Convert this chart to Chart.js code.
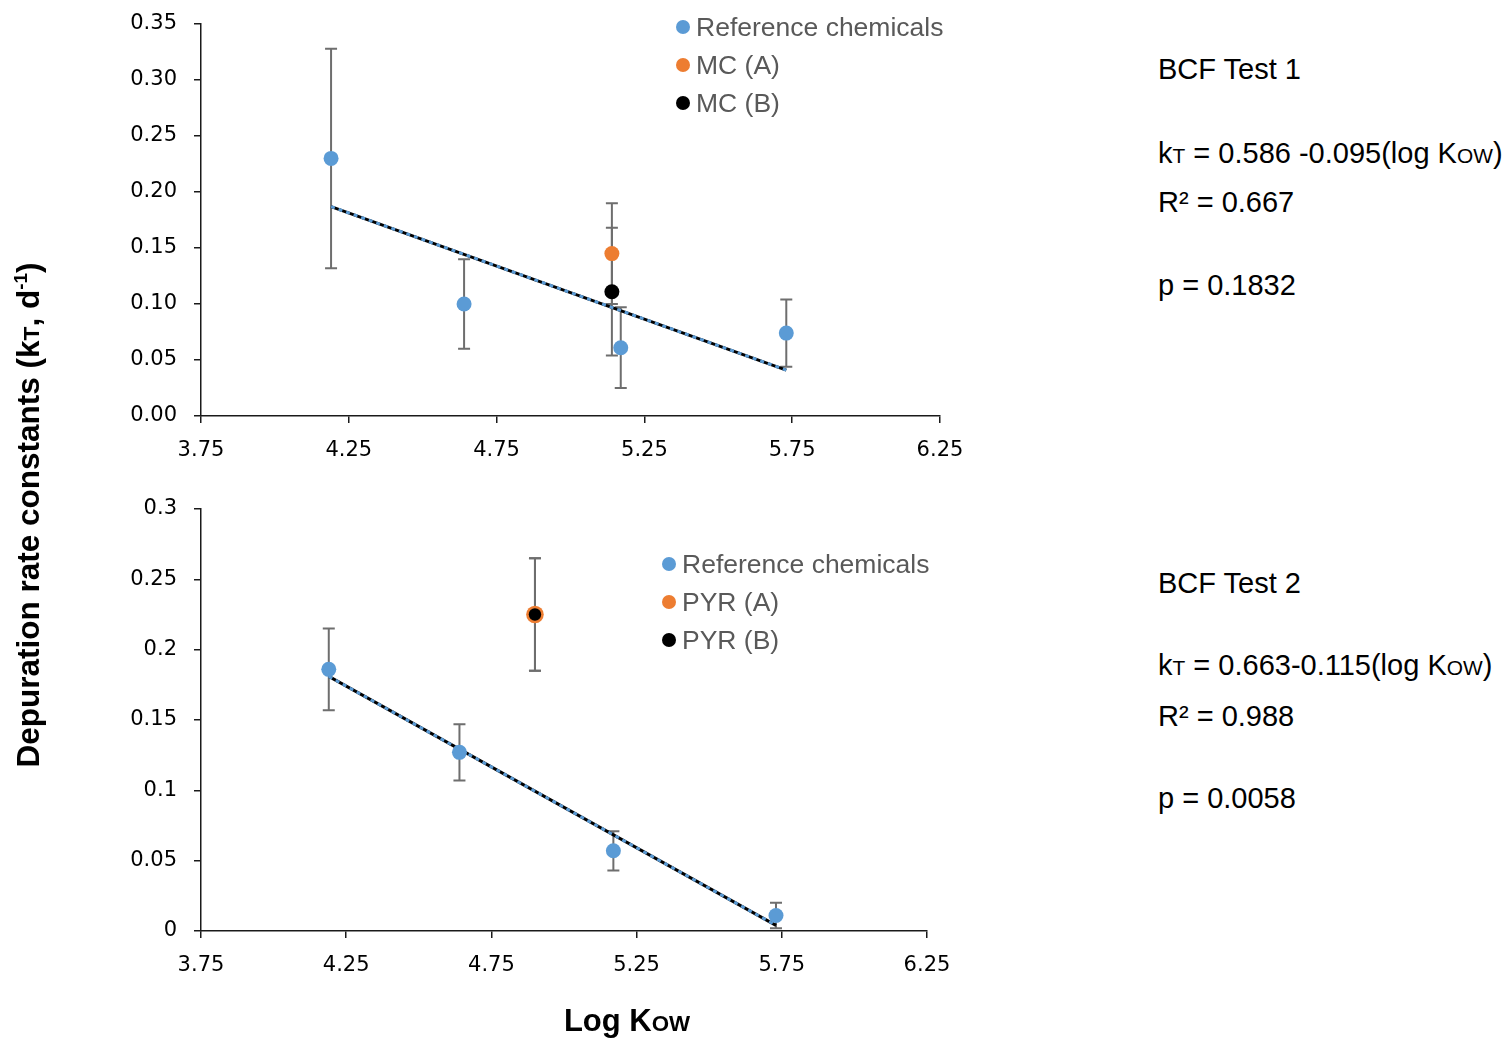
<!DOCTYPE html>
<html>
<head>
<meta charset="utf-8">
<script src="https://cdn.jsdelivr.net/npm/chart.js@4.4.1/dist/chart.umd.min.js"></script>
<style>
  body { margin: 0; background: #fff; }
  #wrap { position: relative; width: 1504px; height: 1039px; font-family: "Liberation Sans", Arial, sans-serif; }
  canvas { position: absolute; left: 0; }
  .legend { position: absolute; color: #595959; font-size: 26.5px; }
  .legend div { height: 38px; line-height: 38px; white-space: nowrap; }
  .legend span.dot { display: inline-block; width: 14px; height: 14px; border-radius: 50%; margin-right: 6px; vertical-align: middle; position: relative; top: -2px; }
  .note { position: absolute; left: 1158px; font-size: 29px; line-height: 34px; color: #000; white-space: nowrap; }
  .sm { font-size: 0.72em; }
  .ytitle { position: absolute; left: -279px; top: 495px; width: 600px; height: 40px; line-height: 40px; text-align: center;
            transform: rotate(-90deg); font-weight: bold; font-size: 31.5px; white-space: nowrap; }
  .xtitle { position: absolute; left: 527px; top: 1002px; width: 200px; text-align: center; font-weight: bold; font-size: 31px; line-height: 38px; }
</style>
</head>
<body>
<div id="wrap">
  <canvas id="c1" width="1000" height="480" style="top:0"></canvas>
  <canvas id="c2" width="1000" height="549" style="top:490px"></canvas>
  <div class="legend" id="leg1" style="left:676px; top:8px"></div>
  <div class="legend" id="leg2" style="left:662px; top:545px"></div>

  <div class="note" style="top:52px">BCF Test 1</div>
  <div class="note" style="top:136px">k<span class="sm">T</span> = 0.586 -0.095(log K<span class="sm">OW</span>)</div>
  <div class="note" style="top:185px">R² = 0.667</div>
  <div class="note" style="top:268px">p = 0.1832</div>

  <div class="note" style="top:566px">BCF Test 2</div>
  <div class="note" style="top:648px">k<span class="sm">T</span> = 0.663-0.115(log K<span class="sm">OW</span>)</div>
  <div class="note" style="top:699px">R² = 0.988</div>
  <div class="note" style="top:781px">p = 0.0058</div>

  <div class="ytitle">Depuration rate constants (k<span class="sm">T</span>, d<sup style="font-size:0.6em">-1</sup>)</div>
  <div class="xtitle">Log K<span class="sm">OW</span></div>
</div>
<script>
// ---- data ----
const xTicks = [3.75, 4.25, 4.75, 5.25, 5.75, 6.25];
const yTicks1 = [0, 0.05, 0.10, 0.15, 0.20, 0.25, 0.30, 0.35];
const yTicks2 = [0, 0.05, 0.1, 0.15, 0.2, 0.25, 0.3];

// BCF test 1
const refX1 = [4.19, 4.64, 5.17, 5.73];
const refY1 = [0.230, 0.100, 0.061, 0.074];
const refErr1 = [0.098, 0.040, 0.036, 0.030];
const mcX = [5.14];
const mcAY = [0.145];
const mcAErr = [0.045];
const mcBY = [0.111];
const mcBErr = [0.057];
const trendX1 = [4.19, 5.73];
const trendY1 = [0.187, 0.041];

// BCF test 2
const refX2 = [4.19, 4.64, 5.17, 5.73];
const refY2 = [0.186, 0.127, 0.057, 0.011];
const refErr2 = [0.029, 0.020, 0.014, 0.009];
const pyrX = [4.90];
const pyrAY = [0.225];
const pyrAErr = [0.040];
const pyrBY = [0.225];
const pyrBErr = [0.040];
const trendX2 = [4.19, 5.73];
const trendY2 = [0.181, 0.004];

// colours
const cBlue = '#5b9bd5';
const cOrange = '#ed7d31';
const cBlack = '#000000';
const cAxis = '#1a1a1a';

const pts = (xs, ys) => xs.map((x, i) => ({ x: x, y: ys[i] }));

// error bars drawn through the chart's own scales
const errorBars = {
  id: 'errorBars',
  beforeDatasetsDraw(chart) {
    const { ctx, scales: { x, y } } = chart;
    ctx.save();
    ctx.strokeStyle = '#6e6e6e';
    ctx.lineWidth = 2;
    chart.data.datasets.forEach(ds => {
      if (!ds.errors) return;
      ds.data.forEach((p, i) => {
        const px = x.getPixelForValue(p.x);
        const t = y.getPixelForValue(p.y + ds.errors[i]);
        const b = y.getPixelForValue(p.y - ds.errors[i]);
        ctx.beginPath();
        ctx.moveTo(px, t); ctx.lineTo(px, b);
        ctx.moveTo(px - 6, t); ctx.lineTo(px + 6, t);
        ctx.moveTo(px - 6, b); ctx.lineTo(px + 6, b);
        ctx.stroke();
      });
    });
    ctx.restore();
  }
};

function trendSets(xs, ys) {
  return [
    { label: '', data: pts(xs, ys), showLine: true, borderColor: cBlack, borderWidth: 3, pointRadius: 0, order: 5 },
    { label: '', data: pts(xs, ys), showLine: true, borderColor: cBlue, borderWidth: 3, borderDash: [4, 4], pointRadius: 0, order: 4 }
  ];
}

function makeOptions(yMax, yTicks, fmt, pad) {
  return {
    responsive: false,
    animation: false,
    layout: { padding: pad },
    plugins: { legend: { display: false }, tooltip: { enabled: false } },
    scales: {
      x: {
        type: 'linear', min: 3.75, max: 6.25,
        afterBuildTicks: s => { s.ticks = xTicks.map(v => ({ value: v })); },
        afterFit: s => { s.height = 50; s.paddingLeft = 0; s.paddingRight = 0; },
        ticks: { callback: v => v.toFixed(2), font: { family: 'DejaVu Sans', size: 21 }, color: '#000', padding: 15, maxRotation: 0, autoSkip: false },
        grid: { drawOnChartArea: false, tickLength: 7, color: cAxis, lineWidth: 1.5 },
        border: { color: cAxis, width: 1.5 }
      },
      y: {
        type: 'linear', min: 0, max: yMax,
        afterBuildTicks: s => { s.ticks = yTicks.map(v => ({ value: v })); },
        afterFit: s => { s.width = 201; s.paddingTop = 0; s.paddingBottom = 0; },
        ticks: { callback: fmt, font: { family: 'DejaVu Sans', size: 21 }, color: '#000', padding: 17 },
        grid: { drawOnChartArea: false, tickLength: 7, color: cAxis, lineWidth: 1.5 },
        border: { color: cAxis, width: 1.5 }
      }
    }
  };
}

const ds1 = [
  { label: 'Reference chemicals', data: pts(refX1, refY1), errors: refErr1, backgroundColor: cBlue, borderWidth: 0, pointRadius: 7.5, order: 2 },
  { label: 'MC (A)', data: pts(mcX, mcAY), errors: mcAErr, backgroundColor: cOrange, borderWidth: 0, pointRadius: 7.5, order: 1 },
  { label: 'MC (B)', data: pts(mcX, mcBY), errors: mcBErr, backgroundColor: cBlack, borderWidth: 0, pointRadius: 7.5, order: 0 }
].concat(trendSets(trendX1, trendY1));

const ds2 = [
  { label: 'Reference chemicals', data: pts(refX2, refY2), errors: refErr2, backgroundColor: cBlue, borderWidth: 0, pointRadius: 7.5, order: 2 },
  { label: 'PYR (A)', data: pts(pyrX, pyrAY), errors: pyrAErr, backgroundColor: cOrange, borderWidth: 0, pointRadius: 8.8, order: 1 },
  { label: 'PYR (B)', data: pts(pyrX, pyrBY), errors: pyrBErr, backgroundColor: cBlack, borderWidth: 0, pointRadius: 6.2, order: 0 }
].concat(trendSets(trendX2, trendY2));

new Chart(document.getElementById('c1'), {
  type: 'scatter',
  data: { datasets: ds1 },
  options: makeOptions(0.35, yTicks1, v => v.toFixed(2), { left: 0, right: 60, top: 24, bottom: 14 }),
  plugins: [errorBars]
});

new Chart(document.getElementById('c2'), {
  type: 'scatter',
  data: { datasets: ds2 },
  options: makeOptions(0.3, yTicks2, v => String(v), { left: 0, right: 73, top: 19, bottom: 58 }),
  plugins: [errorBars]
});

// HTML legends built from the dataset labels
function buildLegend(id, sets) {
  const el = document.getElementById(id);
  sets.filter(d => d.label).forEach(d => {
    const row = document.createElement('div');
    row.innerHTML = '<span class="dot" style="background:' + d.backgroundColor + '"></span><span>' + d.label + '</span>';
    el.appendChild(row);
  });
}
buildLegend('leg1', ds1);
buildLegend('leg2', ds2);
</script>
</body>
</html>
